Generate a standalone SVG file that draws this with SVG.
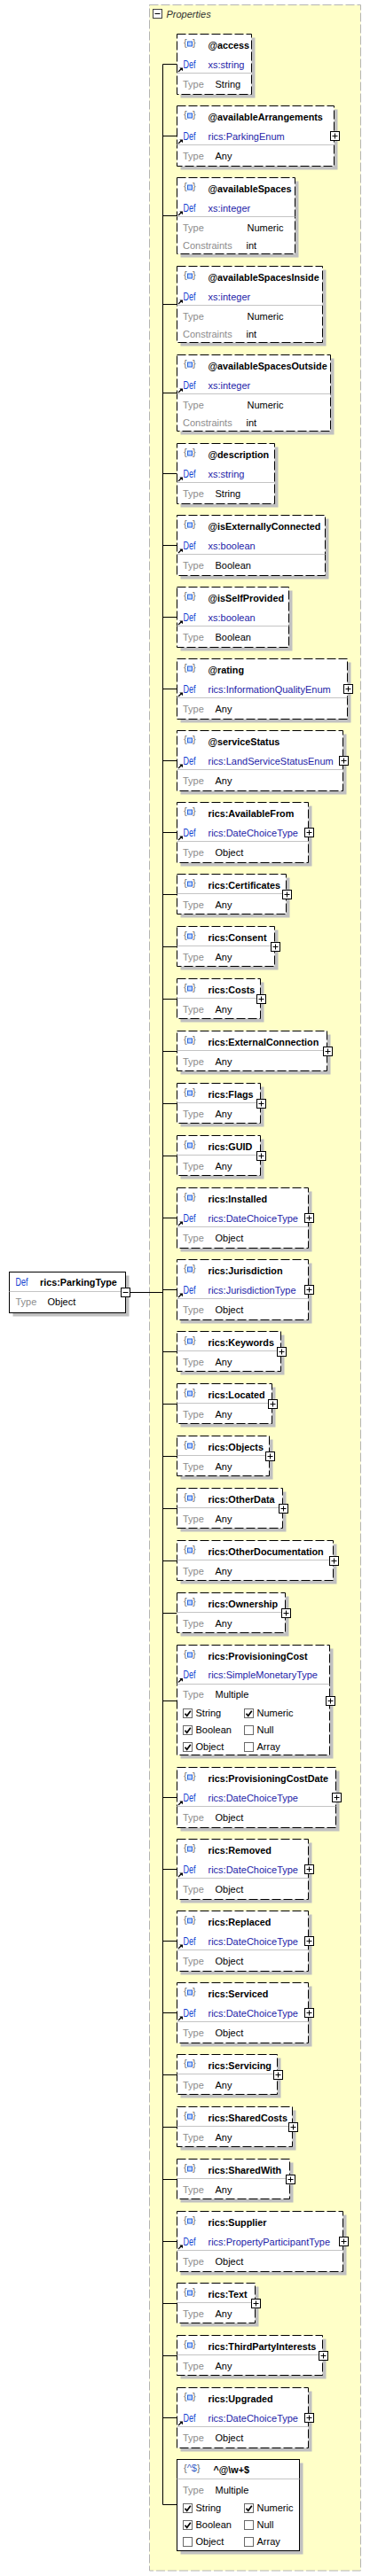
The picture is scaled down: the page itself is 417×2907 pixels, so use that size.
<svg xmlns="http://www.w3.org/2000/svg" xmlns:xlink="http://www.w3.org/1999/xlink" width="417" height="2907" viewBox="0 0 417 2907" font-family="'Liberation Sans', Arial, sans-serif" font-size="11">
<style>
.sh{fill:#c0c0c0}
.bx{fill:#fff;stroke:#000;stroke-dasharray:10 3}
.bs{fill:#fff;stroke:#000}
.sp{stroke:#c4c4c4;fill:none}
.nm{font-weight:bold;font-size:10.8px;fill:#000}
.df{font-size:12px;fill:#1040d0}
.dv{fill:#2323a8}
.tl{fill:#8c8c8c}
.tv{fill:#000}
.cn{fill:none;stroke:#000}
</style>
<defs>
<g id="ico"><text x="207" y="13.5" fill="#707070">{</text><rect x="211.5" y="8.5" width="5" height="5" fill="#bcd4ff" stroke="#2a64dc"/><text x="217" y="13.5" fill="#707070">}</text></g>
<g id="arr"><path d="M201,4.5L204.5,1" stroke="#000" stroke-width="1.3"/><path d="M202.3,0H206V3.7Z" fill="#000"/></g>
<g id="plus"><rect x="0" y="0" width="10" height="10" fill="#fff" stroke="#000"/><path d="M2,5H8M5,2V8" stroke="#000"/></g>
<g id="cbu"><rect x="0" y="0" width="10" height="10" fill="#fff" stroke="#6a6a6a"/></g>
<g id="cbk"><rect x="0" y="0" width="10" height="10" fill="#fff" stroke="#6a6a6a"/><path d="M2,5.2L4.2,7.8L8.3,2.2" fill="none" stroke="#000" stroke-width="1.7"/></g>
</defs>

<g id="properties">
<rect x="168.5" y="5.5" width="238" height="2895.5" fill="#ffffc8" stroke="#b4b4b4" stroke-dasharray="10 3"/>
<rect x="172.5" y="10.5" width="10" height="10" fill="#fff" stroke="#404040"/>
<path d="M174.5,15.5H180.5" stroke="#000"/>
<text x="187.5" y="19.5" font-style="italic" fill="#303030">Properties</text>
</g>

<g id="connectors" class="cn">
<path d="M183.5,72.5V2826.5M146.5,1458.5H183.5M183.5,72.5H199.5M183.5,153.5H199.5M183.5,243.5H199.5M183.5,343.5H199.5M183.5,443.5H199.5M183.5,534.5H199.5M183.5,615.5H199.5M183.5,696.5H199.5M183.5,777.5H199.5M183.5,858.5H199.5M183.5,939.5H199.5M183.5,1009.5H199.5M183.5,1068.5H199.5M183.5,1127.5H199.5M183.5,1186.5H199.5M183.5,1245.5H199.5M183.5,1304.5H199.5M183.5,1374.5H199.5M183.5,1455.5H199.5M183.5,1525.5H199.5M183.5,1584.5H199.5M183.5,1643.5H199.5M183.5,1702.5H199.5M183.5,1761.5H199.5M183.5,1820.5H199.5M183.5,1919.5H199.5M183.5,2028.5H199.5M183.5,2109.5H199.5M183.5,2190.5H199.5M183.5,2271.5H199.5M183.5,2341.5H199.5M183.5,2400.5H199.5M183.5,2459.5H199.5M183.5,2529.5H199.5M183.5,2599.5H199.5M183.5,2658.5H199.5M183.5,2728.5H199.5M183.5,2826.5H199.5"/>
</g>

<g id="node-root">
<rect class="sh" x="14.5" y="1439.5" width="131" height="46"/>
<rect class="bs" x="10.5" y="1435.5" width="131" height="46"/>
<text class="df" x="17.5" y="1451" textLength="14" lengthAdjust="spacingAndGlyphs">Def</text>
<text class="nm" x="45" y="1451">rics:ParkingType</text>
<path class="sp" d="M10.5,1457.5H141.5"/>
<text class="tl" x="17.5" y="1473">Type</text>
<text class="tv" x="53.5" y="1473">Object</text>
<use href="#plus" x="136.5" y="1453.5"/>
<rect x="138" y="1455" width="7" height="7" fill="#fff"/>
<path d="M138.5,1458.5H144.5" stroke="#000"/>
</g>

<g id="node-access"><rect class="sh" x="203.5" y="42.5" width="84" height="68"/><rect class="bx" x="199.5" y="38.5" width="84" height="68"/><use href="#ico" y="38.5"/><text class="nm" x="234.5" y="55">@access</text><use href="#arr" y="76.5"/><text class="df" x="206.5" y="76.5" textLength="14" lengthAdjust="spacingAndGlyphs">Def</text><text class="dv" x="234.5" y="76.5">xs:string</text><path class="sp" d="M199.5,82.5H283.5"/><text class="tl" x="206" y="98.5">Type</text><text class="tv" x="242.5" y="98.5">String</text></g>

<g id="node-availableArrangements"><rect class="sh" x="203.5" y="123.5" width="177" height="68"/><rect class="bx" x="199.5" y="119.5" width="177" height="68"/><use href="#ico" y="119.5"/><text class="nm" x="234.5" y="136">@availableArrangements</text><use href="#arr" y="157.5"/><text class="df" x="206.5" y="157.5" textLength="14" lengthAdjust="spacingAndGlyphs">Def</text><text class="dv" x="234.5" y="157.5">rics:ParkingEnum</text><path class="sp" d="M199.5,163.5H376.5"/><text class="tl" x="206" y="179.5">Type</text><text class="tv" x="242.5" y="179.5">Any</text><use href="#plus" x="372.5" y="148.5"/></g>

<g id="node-availableSpaces"><rect class="sh" x="203.5" y="204.5" width="133" height="86"/><rect class="bx" x="199.5" y="200.5" width="133" height="86"/><use href="#ico" y="200.5"/><text class="nm" x="234.5" y="217">@availableSpaces</text><use href="#arr" y="238.5"/><text class="df" x="206.5" y="238.5" textLength="14" lengthAdjust="spacingAndGlyphs">Def</text><text class="dv" x="234.5" y="238.5">xs:integer</text><path class="sp" d="M199.5,244.5H332.5"/><text class="tl" x="206" y="260.5">Type</text><text class="tv" x="278.5" y="260.5">Numeric</text><text class="tl" x="206" y="280.5">Constraints</text><text class="tv" x="277.5" y="280.5">int</text></g>

<g id="node-availableSpacesInside"><rect class="sh" x="203.5" y="304.5" width="164" height="86"/><rect class="bx" x="199.5" y="300.5" width="164" height="86"/><use href="#ico" y="300.5"/><text class="nm" x="234.5" y="317">@availableSpacesInside</text><use href="#arr" y="338.5"/><text class="df" x="206.5" y="338.5" textLength="14" lengthAdjust="spacingAndGlyphs">Def</text><text class="dv" x="234.5" y="338.5">xs:integer</text><path class="sp" d="M199.5,344.5H363.5"/><text class="tl" x="206" y="360.5">Type</text><text class="tv" x="278.5" y="360.5">Numeric</text><text class="tl" x="206" y="380.5">Constraints</text><text class="tv" x="277.5" y="380.5">int</text></g>

<g id="node-availableSpacesOutside"><rect class="sh" x="203.5" y="404.5" width="173" height="86"/><rect class="bx" x="199.5" y="400.5" width="173" height="86"/><use href="#ico" y="400.5"/><text class="nm" x="234.5" y="417">@availableSpacesOutside</text><use href="#arr" y="438.5"/><text class="df" x="206.5" y="438.5" textLength="14" lengthAdjust="spacingAndGlyphs">Def</text><text class="dv" x="234.5" y="438.5">xs:integer</text><path class="sp" d="M199.5,444.5H372.5"/><text class="tl" x="206" y="460.5">Type</text><text class="tv" x="278.5" y="460.5">Numeric</text><text class="tl" x="206" y="480.5">Constraints</text><text class="tv" x="277.5" y="480.5">int</text></g>

<g id="node-description"><rect class="sh" x="203.5" y="504.5" width="110" height="68"/><rect class="bx" x="199.5" y="500.5" width="110" height="68"/><use href="#ico" y="500.5"/><text class="nm" x="234.5" y="517">@description</text><use href="#arr" y="538.5"/><text class="df" x="206.5" y="538.5" textLength="14" lengthAdjust="spacingAndGlyphs">Def</text><text class="dv" x="234.5" y="538.5">xs:string</text><path class="sp" d="M199.5,544.5H309.5"/><text class="tl" x="206" y="560.5">Type</text><text class="tv" x="242.5" y="560.5">String</text></g>

<g id="node-isExternallyConnected"><rect class="sh" x="203.5" y="585.5" width="167" height="68"/><rect class="bx" x="199.5" y="581.5" width="167" height="68"/><use href="#ico" y="581.5"/><text class="nm" x="234.5" y="598">@isExternallyConnected</text><use href="#arr" y="619.5"/><text class="df" x="206.5" y="619.5" textLength="14" lengthAdjust="spacingAndGlyphs">Def</text><text class="dv" x="234.5" y="619.5">xs:boolean</text><path class="sp" d="M199.5,625.5H366.5"/><text class="tl" x="206" y="641.5">Type</text><text class="tv" x="242.5" y="641.5">Boolean</text></g>

<g id="node-isSelfProvided"><rect class="sh" x="203.5" y="666.5" width="126" height="68"/><rect class="bx" x="199.5" y="662.5" width="126" height="68"/><use href="#ico" y="662.5"/><text class="nm" x="234.5" y="679">@isSelfProvided</text><use href="#arr" y="700.5"/><text class="df" x="206.5" y="700.5" textLength="14" lengthAdjust="spacingAndGlyphs">Def</text><text class="dv" x="234.5" y="700.5">xs:boolean</text><path class="sp" d="M199.5,706.5H325.5"/><text class="tl" x="206" y="722.5">Type</text><text class="tv" x="242.5" y="722.5">Boolean</text></g>

<g id="node-rating"><rect class="sh" x="203.5" y="747.5" width="192" height="68"/><rect class="bx" x="199.5" y="743.5" width="192" height="68"/><use href="#ico" y="743.5"/><text class="nm" x="234.5" y="760">@rating</text><use href="#arr" y="781.5"/><text class="df" x="206.5" y="781.5" textLength="14" lengthAdjust="spacingAndGlyphs">Def</text><text class="dv" x="234.5" y="781.5">rics:InformationQualityEnum</text><path class="sp" d="M199.5,787.5H391.5"/><text class="tl" x="206" y="803.5">Type</text><text class="tv" x="242.5" y="803.5">Any</text><use href="#plus" x="387.5" y="772.5"/></g>

<g id="node-serviceStatus"><rect class="sh" x="203.5" y="828.5" width="187" height="68"/><rect class="bx" x="199.5" y="824.5" width="187" height="68"/><use href="#ico" y="824.5"/><text class="nm" x="234.5" y="841">@serviceStatus</text><use href="#arr" y="862.5"/><text class="df" x="206.5" y="862.5" textLength="14" lengthAdjust="spacingAndGlyphs">Def</text><text class="dv" x="234.5" y="862.5">rics:LandServiceStatusEnum</text><path class="sp" d="M199.5,868.5H386.5"/><text class="tl" x="206" y="884.5">Type</text><text class="tv" x="242.5" y="884.5">Any</text><use href="#plus" x="382.5" y="853.5"/></g>

<g id="node-AvailableFrom"><rect class="sh" x="203.5" y="909.5" width="148" height="68"/><rect class="bx" x="199.5" y="905.5" width="148" height="68"/><use href="#ico" y="905.5"/><text class="nm" x="234.5" y="922">rics:AvailableFrom</text><use href="#arr" y="943.5"/><text class="df" x="206.5" y="943.5" textLength="14" lengthAdjust="spacingAndGlyphs">Def</text><text class="dv" x="234.5" y="943.5">rics:DateChoiceType</text><path class="sp" d="M199.5,949.5H347.5"/><text class="tl" x="206" y="965.5">Type</text><text class="tv" x="242.5" y="965.5">Object</text><use href="#plus" x="343.5" y="934.5"/></g>

<g id="node-Certificates"><rect class="sh" x="203.5" y="990.5" width="123" height="45"/><rect class="bx" x="199.5" y="986.5" width="123" height="45"/><use href="#ico" y="986.5"/><text class="nm" x="234.5" y="1003">rics:Certificates</text><path class="sp" d="M199.5,1008.5H322.5"/><text class="tl" x="206" y="1024.5">Type</text><text class="tv" x="242.5" y="1024.5">Any</text><use href="#plus" x="318.5" y="1004.5"/></g>

<g id="node-Consent"><rect class="sh" x="203.5" y="1049.5" width="110" height="45"/><rect class="bx" x="199.5" y="1045.5" width="110" height="45"/><use href="#ico" y="1045.5"/><text class="nm" x="234.5" y="1062">rics:Consent</text><path class="sp" d="M199.5,1067.5H309.5"/><text class="tl" x="206" y="1083.5">Type</text><text class="tv" x="242.5" y="1083.5">Any</text><use href="#plus" x="305.5" y="1063.5"/></g>

<g id="node-Costs"><rect class="sh" x="203.5" y="1108.5" width="94" height="45"/><rect class="bx" x="199.5" y="1104.5" width="94" height="45"/><use href="#ico" y="1104.5"/><text class="nm" x="234.5" y="1121">rics:Costs</text><path class="sp" d="M199.5,1126.5H293.5"/><text class="tl" x="206" y="1142.5">Type</text><text class="tv" x="242.5" y="1142.5">Any</text><use href="#plus" x="289.5" y="1122.5"/></g>

<g id="node-ExternalConnection"><rect class="sh" x="203.5" y="1167.5" width="169" height="45"/><rect class="bx" x="199.5" y="1163.5" width="169" height="45"/><use href="#ico" y="1163.5"/><text class="nm" x="234.5" y="1180">rics:ExternalConnection</text><path class="sp" d="M199.5,1185.5H368.5"/><text class="tl" x="206" y="1201.5">Type</text><text class="tv" x="242.5" y="1201.5">Any</text><use href="#plus" x="364.5" y="1181.5"/></g>

<g id="node-Flags"><rect class="sh" x="203.5" y="1226.5" width="94" height="45"/><rect class="bx" x="199.5" y="1222.5" width="94" height="45"/><use href="#ico" y="1222.5"/><text class="nm" x="234.5" y="1239">rics:Flags</text><path class="sp" d="M199.5,1244.5H293.5"/><text class="tl" x="206" y="1260.5">Type</text><text class="tv" x="242.5" y="1260.5">Any</text><use href="#plus" x="289.5" y="1240.5"/></g>

<g id="node-GUID"><rect class="sh" x="203.5" y="1285.5" width="94" height="45"/><rect class="bx" x="199.5" y="1281.5" width="94" height="45"/><use href="#ico" y="1281.5"/><text class="nm" x="234.5" y="1298">rics:GUID</text><path class="sp" d="M199.5,1303.5H293.5"/><text class="tl" x="206" y="1319.5">Type</text><text class="tv" x="242.5" y="1319.5">Any</text><use href="#plus" x="289.5" y="1299.5"/></g>

<g id="node-Installed"><rect class="sh" x="203.5" y="1344.5" width="148" height="68"/><rect class="bx" x="199.5" y="1340.5" width="148" height="68"/><use href="#ico" y="1340.5"/><text class="nm" x="234.5" y="1357">rics:Installed</text><use href="#arr" y="1378.5"/><text class="df" x="206.5" y="1378.5" textLength="14" lengthAdjust="spacingAndGlyphs">Def</text><text class="dv" x="234.5" y="1378.5">rics:DateChoiceType</text><path class="sp" d="M199.5,1384.5H347.5"/><text class="tl" x="206" y="1400.5">Type</text><text class="tv" x="242.5" y="1400.5">Object</text><use href="#plus" x="343.5" y="1369.5"/></g>

<g id="node-Jurisdiction"><rect class="sh" x="203.5" y="1425.5" width="148" height="68"/><rect class="bx" x="199.5" y="1421.5" width="148" height="68"/><use href="#ico" y="1421.5"/><text class="nm" x="234.5" y="1438">rics:Jurisdiction</text><use href="#arr" y="1459.5"/><text class="df" x="206.5" y="1459.5" textLength="14" lengthAdjust="spacingAndGlyphs">Def</text><text class="dv" x="234.5" y="1459.5">rics:JurisdictionType</text><path class="sp" d="M199.5,1465.5H347.5"/><text class="tl" x="206" y="1481.5">Type</text><text class="tv" x="242.5" y="1481.5">Object</text><use href="#plus" x="343.5" y="1450.5"/></g>

<g id="node-Keywords"><rect class="sh" x="203.5" y="1506.5" width="117" height="45"/><rect class="bx" x="199.5" y="1502.5" width="117" height="45"/><use href="#ico" y="1502.5"/><text class="nm" x="234.5" y="1519">rics:Keywords</text><path class="sp" d="M199.5,1524.5H316.5"/><text class="tl" x="206" y="1540.5">Type</text><text class="tv" x="242.5" y="1540.5">Any</text><use href="#plus" x="312.5" y="1520.5"/></g>

<g id="node-Located"><rect class="sh" x="203.5" y="1565.5" width="107" height="45"/><rect class="bx" x="199.5" y="1561.5" width="107" height="45"/><use href="#ico" y="1561.5"/><text class="nm" x="234.5" y="1578">rics:Located</text><path class="sp" d="M199.5,1583.5H306.5"/><text class="tl" x="206" y="1599.5">Type</text><text class="tv" x="242.5" y="1599.5">Any</text><use href="#plus" x="302.5" y="1579.5"/></g>

<g id="node-Objects"><rect class="sh" x="203.5" y="1624.5" width="104" height="45"/><rect class="bx" x="199.5" y="1620.5" width="104" height="45"/><use href="#ico" y="1620.5"/><text class="nm" x="234.5" y="1637">rics:Objects</text><path class="sp" d="M199.5,1642.5H303.5"/><text class="tl" x="206" y="1658.5">Type</text><text class="tv" x="242.5" y="1658.5">Any</text><use href="#plus" x="299.5" y="1638.5"/></g>

<g id="node-OtherData"><rect class="sh" x="203.5" y="1683.5" width="119" height="45"/><rect class="bx" x="199.5" y="1679.5" width="119" height="45"/><use href="#ico" y="1679.5"/><text class="nm" x="234.5" y="1696">rics:OtherData</text><path class="sp" d="M199.5,1701.5H318.5"/><text class="tl" x="206" y="1717.5">Type</text><text class="tv" x="242.5" y="1717.5">Any</text><use href="#plus" x="314.5" y="1697.5"/></g>

<g id="node-OtherDocumentation"><rect class="sh" x="203.5" y="1742.5" width="176" height="45"/><rect class="bx" x="199.5" y="1738.5" width="176" height="45"/><use href="#ico" y="1738.5"/><text class="nm" x="234.5" y="1755">rics:OtherDocumentation</text><path class="sp" d="M199.5,1760.5H375.5"/><text class="tl" x="206" y="1776.5">Type</text><text class="tv" x="242.5" y="1776.5">Any</text><use href="#plus" x="371.5" y="1756.5"/></g>

<g id="node-Ownership"><rect class="sh" x="203.5" y="1801.5" width="122" height="45"/><rect class="bx" x="199.5" y="1797.5" width="122" height="45"/><use href="#ico" y="1797.5"/><text class="nm" x="234.5" y="1814">rics:Ownership</text><path class="sp" d="M199.5,1819.5H321.5"/><text class="tl" x="206" y="1835.5">Type</text><text class="tv" x="242.5" y="1835.5">Any</text><use href="#plus" x="317.5" y="1815.5"/></g>

<g id="node-ProvisioningCost"><rect class="sh" x="203.5" y="1860.5" width="172" height="124"/><rect class="bx" x="199.5" y="1856.5" width="172" height="124"/><use href="#ico" y="1856.5"/><text class="nm" x="234.5" y="1873">rics:ProvisioningCost</text><use href="#arr" y="1894"/><text class="df" x="206.5" y="1894" textLength="14" lengthAdjust="spacingAndGlyphs">Def</text><text class="dv" x="234.5" y="1894">rics:SimpleMonetaryType</text><path class="sp" d="M199.5,1900.5H371.5"/><text class="tl" x="206" y="1916">Type</text><text class="tv" x="242.5" y="1916">Multiple</text>
<use href="#cbk" x="206.5" y="1928.5"/><text class="tv" x="220.5" y="1936.5">String</text><use href="#cbk" x="275.5" y="1928.5"/><text class="tv" x="289.5" y="1936.5">Numeric</text>
<use href="#cbk" x="206.5" y="1947.5"/><text class="tv" x="220.5" y="1955.5">Boolean</text><use href="#cbu" x="275.5" y="1947.5"/><text class="tv" x="289.5" y="1955.5">Null</text>
<use href="#cbk" x="206.5" y="1966.5"/><text class="tv" x="220.5" y="1974.5">Object</text><use href="#cbu" x="275.5" y="1966.5"/><text class="tv" x="289.5" y="1974.5">Array</text>
<use href="#plus" x="367.5" y="1914.5"/></g>

<g id="node-ProvisioningCostDate"><rect class="sh" x="203.5" y="1998.5" width="179" height="68"/><rect class="bx" x="199.5" y="1994.5" width="179" height="68"/><use href="#ico" y="1994.5"/><text class="nm" x="234.5" y="2011">rics:ProvisioningCostDate</text><use href="#arr" y="2032.5"/><text class="df" x="206.5" y="2032.5" textLength="14" lengthAdjust="spacingAndGlyphs">Def</text><text class="dv" x="234.5" y="2032.5">rics:DateChoiceType</text><path class="sp" d="M199.5,2038.5H378.5"/><text class="tl" x="206" y="2054.5">Type</text><text class="tv" x="242.5" y="2054.5">Object</text><use href="#plus" x="374.5" y="2023.5"/></g>

<g id="node-Removed"><rect class="sh" x="203.5" y="2079.5" width="148" height="68"/><rect class="bx" x="199.5" y="2075.5" width="148" height="68"/><use href="#ico" y="2075.5"/><text class="nm" x="234.5" y="2092">rics:Removed</text><use href="#arr" y="2113.5"/><text class="df" x="206.5" y="2113.5" textLength="14" lengthAdjust="spacingAndGlyphs">Def</text><text class="dv" x="234.5" y="2113.5">rics:DateChoiceType</text><path class="sp" d="M199.5,2119.5H347.5"/><text class="tl" x="206" y="2135.5">Type</text><text class="tv" x="242.5" y="2135.5">Object</text><use href="#plus" x="343.5" y="2104.5"/></g>

<g id="node-Replaced"><rect class="sh" x="203.5" y="2160.5" width="148" height="68"/><rect class="bx" x="199.5" y="2156.5" width="148" height="68"/><use href="#ico" y="2156.5"/><text class="nm" x="234.5" y="2173">rics:Replaced</text><use href="#arr" y="2194.5"/><text class="df" x="206.5" y="2194.5" textLength="14" lengthAdjust="spacingAndGlyphs">Def</text><text class="dv" x="234.5" y="2194.5">rics:DateChoiceType</text><path class="sp" d="M199.5,2200.5H347.5"/><text class="tl" x="206" y="2216.5">Type</text><text class="tv" x="242.5" y="2216.5">Object</text><use href="#plus" x="343.5" y="2185.5"/></g>

<g id="node-Serviced"><rect class="sh" x="203.5" y="2241.5" width="148" height="68"/><rect class="bx" x="199.5" y="2237.5" width="148" height="68"/><use href="#ico" y="2237.5"/><text class="nm" x="234.5" y="2254">rics:Serviced</text><use href="#arr" y="2275.5"/><text class="df" x="206.5" y="2275.5" textLength="14" lengthAdjust="spacingAndGlyphs">Def</text><text class="dv" x="234.5" y="2275.5">rics:DateChoiceType</text><path class="sp" d="M199.5,2281.5H347.5"/><text class="tl" x="206" y="2297.5">Type</text><text class="tv" x="242.5" y="2297.5">Object</text><use href="#plus" x="343.5" y="2266.5"/></g>

<g id="node-Servicing"><rect class="sh" x="203.5" y="2322.5" width="113" height="45"/><rect class="bx" x="199.5" y="2318.5" width="113" height="45"/><use href="#ico" y="2318.5"/><text class="nm" x="234.5" y="2335">rics:Servicing</text><path class="sp" d="M199.5,2340.5H312.5"/><text class="tl" x="206" y="2356.5">Type</text><text class="tv" x="242.5" y="2356.5">Any</text><use href="#plus" x="308.5" y="2336.5"/></g>

<g id="node-SharedCosts"><rect class="sh" x="203.5" y="2381.5" width="130" height="45"/><rect class="bx" x="199.5" y="2377.5" width="130" height="45"/><use href="#ico" y="2377.5"/><text class="nm" x="234.5" y="2394">rics:SharedCosts</text><path class="sp" d="M199.5,2399.5H329.5"/><text class="tl" x="206" y="2415.5">Type</text><text class="tv" x="242.5" y="2415.5">Any</text><use href="#plus" x="325.5" y="2395.5"/></g>

<g id="node-SharedWith"><rect class="sh" x="203.5" y="2440.5" width="127" height="45"/><rect class="bx" x="199.5" y="2436.5" width="127" height="45"/><use href="#ico" y="2436.5"/><text class="nm" x="234.5" y="2453">rics:SharedWith</text><path class="sp" d="M199.5,2458.5H326.5"/><text class="tl" x="206" y="2474.5">Type</text><text class="tv" x="242.5" y="2474.5">Any</text><use href="#plus" x="322.5" y="2454.5"/></g>

<g id="node-Supplier"><rect class="sh" x="203.5" y="2499.5" width="187" height="68"/><rect class="bx" x="199.5" y="2495.5" width="187" height="68"/><use href="#ico" y="2495.5"/><text class="nm" x="234.5" y="2512">rics:Supplier</text><use href="#arr" y="2533.5"/><text class="df" x="206.5" y="2533.5" textLength="14" lengthAdjust="spacingAndGlyphs">Def</text><text class="dv" x="234.5" y="2533.5">rics:PropertyParticipantType</text><path class="sp" d="M199.5,2539.5H386.5"/><text class="tl" x="206" y="2555.5">Type</text><text class="tv" x="242.5" y="2555.5">Object</text><use href="#plus" x="382.5" y="2524.5"/></g>

<g id="node-Text"><rect class="sh" x="203.5" y="2580.5" width="88" height="45"/><rect class="bx" x="199.5" y="2576.5" width="88" height="45"/><use href="#ico" y="2576.5"/><text class="nm" x="234.5" y="2593">rics:Text</text><path class="sp" d="M199.5,2598.5H287.5"/><text class="tl" x="206" y="2614.5">Type</text><text class="tv" x="242.5" y="2614.5">Any</text><use href="#plus" x="283.5" y="2594.5"/></g>

<g id="node-ThirdPartyInterests"><rect class="sh" x="203.5" y="2639.5" width="164" height="45"/><rect class="bx" x="199.5" y="2635.5" width="164" height="45"/><use href="#ico" y="2635.5"/><text class="nm" x="234.5" y="2652">rics:ThirdPartyInterests</text><path class="sp" d="M199.5,2657.5H363.5"/><text class="tl" x="206" y="2673.5">Type</text><text class="tv" x="242.5" y="2673.5">Any</text><use href="#plus" x="359.5" y="2653.5"/></g>

<g id="node-Upgraded"><rect class="sh" x="203.5" y="2698.5" width="148" height="68"/><rect class="bx" x="199.5" y="2694.5" width="148" height="68"/><use href="#ico" y="2694.5"/><text class="nm" x="234.5" y="2711">rics:Upgraded</text><use href="#arr" y="2732.5"/><text class="df" x="206.5" y="2732.5" textLength="14" lengthAdjust="spacingAndGlyphs">Def</text><text class="dv" x="234.5" y="2732.5">rics:DateChoiceType</text><path class="sp" d="M199.5,2738.5H347.5"/><text class="tl" x="206" y="2754.5">Type</text><text class="tv" x="242.5" y="2754.5">Object</text><use href="#plus" x="343.5" y="2723.5"/></g>

<g id="node-pattern"><rect class="sh" x="203.5" y="2779.5" width="138" height="103"/><rect class="bs" x="199.5" y="2775.5" width="138" height="103"/><text x="207" y="2789" fill="#707070">{<tspan fill="#3a62c8">^$</tspan>}</text><text class="nm" x="240.5" y="2791">^@\w+$</text><path class="sp" d="M199.5,2797.5H337.5"/><text class="tl" x="206" y="2813.5">Type</text><text class="tv" x="242.5" y="2813.5">Multiple</text>
<use href="#cbk" x="206.5" y="2825.5"/><text class="tv" x="220.5" y="2833.5">String</text><use href="#cbk" x="275.5" y="2825.5"/><text class="tv" x="289.5" y="2833.5">Numeric</text>
<use href="#cbk" x="206.5" y="2844.5"/><text class="tv" x="220.5" y="2852.5">Boolean</text><use href="#cbu" x="275.5" y="2844.5"/><text class="tv" x="289.5" y="2852.5">Null</text>
<use href="#cbu" x="206.5" y="2863.5"/><text class="tv" x="220.5" y="2871.5">Object</text><use href="#cbu" x="275.5" y="2863.5"/><text class="tv" x="289.5" y="2871.5">Array</text></g>
</svg>
